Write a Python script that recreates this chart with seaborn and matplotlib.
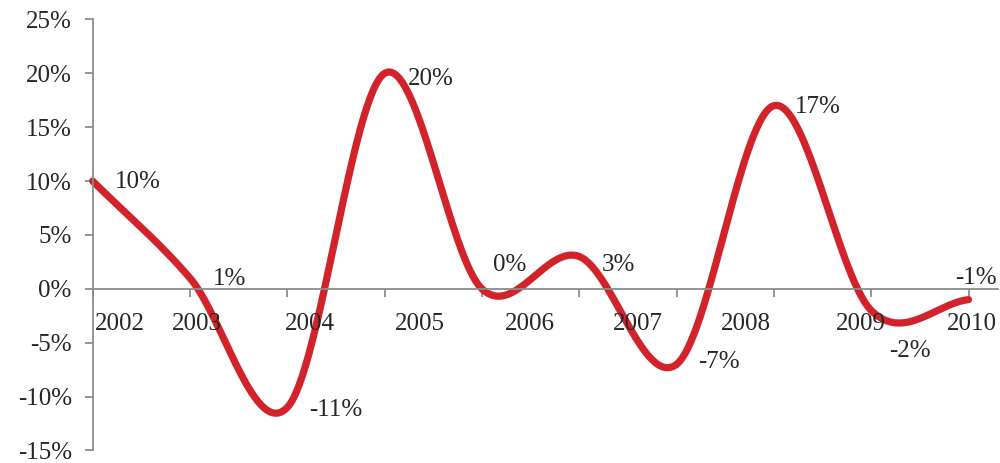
import numpy as np
import pandas as pd
import matplotlib
matplotlib.use("Agg")
import matplotlib.pyplot as plt
import seaborn as sns

# --- data -------------------------------------------------------------
years = ["2002", "2003", "2004", "2005", "2006", "2007", "2008", "2009", "2010"]
growth = [10, 1, -11, 20, 0, 3, -7, 17, -2, -1]          # % per period
y_ticks = [-15, -10, -5, 0, 5, 10, 15, 20, 25]

# --- layout -----------------------------------------------------------
year_label_x = [0.28, 1.07, 2.23, 3.36, 4.49, 5.60, 6.71, 7.89, 9.03]
year_label_y = -3.0
# value-label offsets in pixels (dx to left edge, dy up)
label_offsets = [(22, 2), (23, 2), (22, 0), (23, -3), (11, 26),
                 (22, -6), (22, 5), (21, 1), (18, -38), (-13, 24)]

RED = "#D2232A"
GREY = "#8C8C8C"
TEXT = "#262626"
FS = 18

sns.set_theme(style="white")
plt.rcParams["font.family"] = ["Liberation Serif", "DejaVu Serif"]


def smooth_curve(values, steps=60):
    """Cardinal (Catmull-Rom) spline through equally spaced points."""
    y = np.asarray(values, dtype=float)
    n = len(y)
    m = np.empty(n)
    m[1:-1] = (y[2:] - y[:-2]) / 2.0
    m[0] = y[1] - y[0]
    m[-1] = y[-1] - y[-2]
    xs, ys = [], []
    for i in range(n - 1):
        t = np.linspace(0, 1, steps, endpoint=(i == n - 2))
        h00 = 2 * t**3 - 3 * t**2 + 1
        h10 = t**3 - 2 * t**2 + t
        h01 = -2 * t**3 + 3 * t**2
        h11 = t**3 - t**2
        xs.append(i + t)
        ys.append(h00 * y[i] + h10 * m[i] + h01 * y[i + 1] + h11 * m[i + 1])
    return np.concatenate(xs), np.concatenate(ys)


sx, sy = smooth_curve(growth)
curve = pd.DataFrame({"pos": sx, "growth": sy})

fig = plt.figure(figsize=(10, 4.63), dpi=100)
ax = fig.add_axes([0.0927, 0.027, 0.905, 0.931])

sns.lineplot(data=curve, x="pos", y="growth", ax=ax, color=RED,
             linewidth=5.2, sort=False, estimator=None)
for ln in ax.lines:
    ln.set_clip_on(False)
    ln.set_solid_capstyle("round")
    ln.set_solid_joinstyle("round")

ax.set_xlim(0, 9.3)
ax.set_ylim(-15, 25)

# axes styling
for side in ("top", "right"):
    ax.spines[side].set_visible(False)
ax.spines["left"].set_color(GREY)
ax.spines["left"].set_linewidth(1.3)
ax.spines["bottom"].set_color(GREY)
ax.spines["bottom"].set_linewidth(1.3)
ax.spines["bottom"].set_position(("data", 0))

ax.set_yticks(y_ticks)
ax.set_yticklabels([f"{v}%" for v in y_ticks])
ax.set_xticks(range(len(growth)))
ax.set_xticklabels([])
ax.tick_params(axis="y", direction="out", length=6, width=1.3, color=GREY,
               labelsize=FS, labelcolor=TEXT, pad=9, left=True)
ax.tick_params(axis="x", direction="out", length=5.5, width=1.3, color=GREY,
               bottom=True, labelbottom=False)
ax.set_xlabel("")
ax.set_ylabel("")
ax.grid(False)

# year labels along the zero line
for xpos, yr in zip(year_label_x, years):
    ax.text(xpos, year_label_y, yr, ha="center", va="center_baseline",
            fontsize=FS, color=TEXT)

# value labels
for i, (v, (dx, dy)) in enumerate(zip(growth, label_offsets)):
    ax.annotate(f"{v:.0f}%", xy=(i, v), xytext=(dx, dy),
                textcoords="offset pixels", ha="left", va="center_baseline",
                fontsize=FS, color=TEXT, annotation_clip=False)

fig.savefig("out.png", dpi=100)
